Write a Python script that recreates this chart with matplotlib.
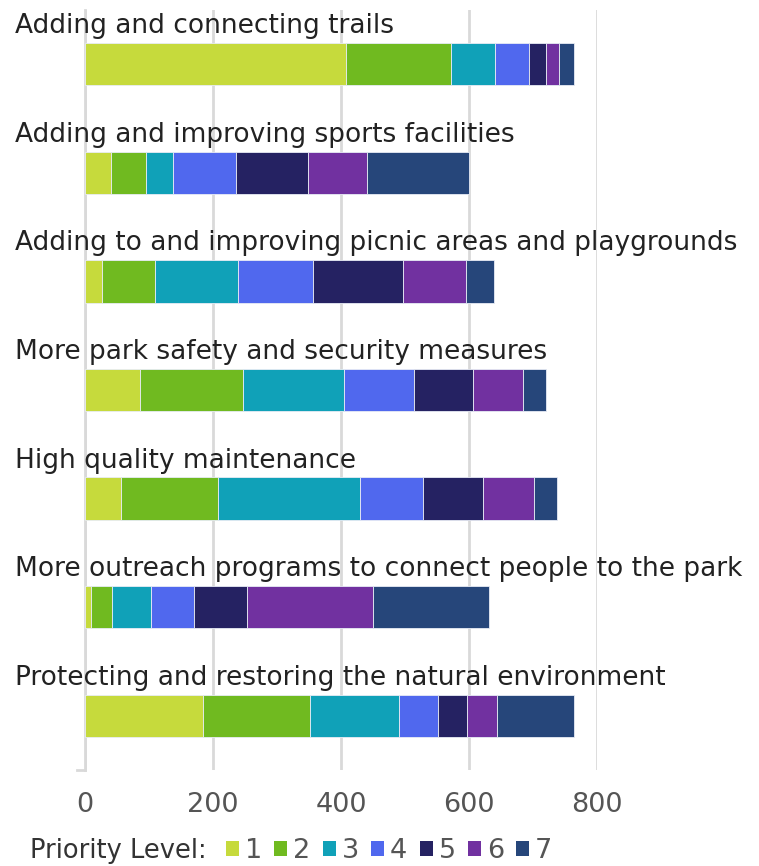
import matplotlib
matplotlib.use("Agg")
import matplotlib.pyplot as plt
from matplotlib.patches import Patch
import numpy as np

plt.rcParams['font.family'] = ['DejaVu Sans']

categories = [
    "Adding and connecting trails",
    "Adding and improving sports facilities",
    "Adding to and improving picnic areas and playgrounds",
    "More park safety and security measures",
    "High quality maintenance",
    "More outreach programs to connect people to the park",
    "Protecting and restoring the natural environment",
]
levels = ["1", "2", "3", "4", "5", "6", "7"]
# counts per priority level for each category
p1 = [408, 41, 26, 86, 57, 9, 184]
p2 = [164, 55, 84, 161, 151, 33, 168]
p3 = [69, 42, 129, 157, 222, 61, 138]
p4 = [53, 98, 118, 110, 98, 67, 62]
p5 = [27, 112, 140, 93, 94, 83, 45]
p6 = [20, 92, 99, 77, 79, 197, 47]
p7 = [23, 160, 43, 36, 36, 181, 120]
series = [p1, p2, p3, p4, p5, p6, p7]
colors = ['#c6da3c', '#70ba20', '#10a1b8', '#5068ee', '#252262', '#7131a0', '#26467a']
xticks = [0, 200, 400, 600, 800]

fig = plt.figure(figsize=(7.59, 8.66), dpi=100)
ax = fig.add_axes([85/759, 1 - 770/866, (597-85)/759, 760/866])

y = np.arange(len(categories))
left = np.zeros(len(categories))
for vals, c in zip(series, colors):
    ax.barh(y, vals, left=left, height=0.39, color=c, edgecolor='#e8ecf5', linewidth=0.6, zorder=3)
    left += np.array(vals)

ax.set_xlim(0, 800)
ax.set_ylim(len(categories) - 0.5, -0.5)
ax.set_xticks(xticks)
ax.set_xticklabels([str(t) for t in xticks], fontsize=19.5, color='#555555')
ax.set_yticks([])
ax.tick_params(axis='x', length=0, pad=16)
ax.grid(axis='x', color='#d9d9d9', linewidth=2, zorder=0)
for s in ['top', 'right', 'bottom']:
    ax.spines[s].set_visible(False)
ax.spines['left'].set_color('#d9d9d9')
ax.spines['left'].set_linewidth(2)
# little tick at the bottom of the zero line
ax.plot([-12, 0], [len(categories) - 0.5, len(categories) - 0.5], color='#d9d9d9', lw=2, clip_on=False)

for i, cat in enumerate(categories):
    ax.text(-110, i - 0.285, cat, fontsize=19, color='#222222', ha='left', va='baseline', clip_on=False)

fig.text(30/759, 1 - 851/866, "Priority Level:", fontsize=18.5, color='#333333', ha='left', va='center')
handles = [Patch(facecolor=c, edgecolor='none') for c in colors]
fig.legend(handles, levels, loc='center left', bbox_to_anchor=(226/759, 1 - 851/866), ncol=7,
           frameon=False, handlelength=0.48, handleheight=0.48, handletextpad=0.22,
           columnspacing=0.45, prop={'size': 19.5}, labelcolor='#555555', borderaxespad=0, borderpad=0)

fig.savefig("out.png", dpi=100)
